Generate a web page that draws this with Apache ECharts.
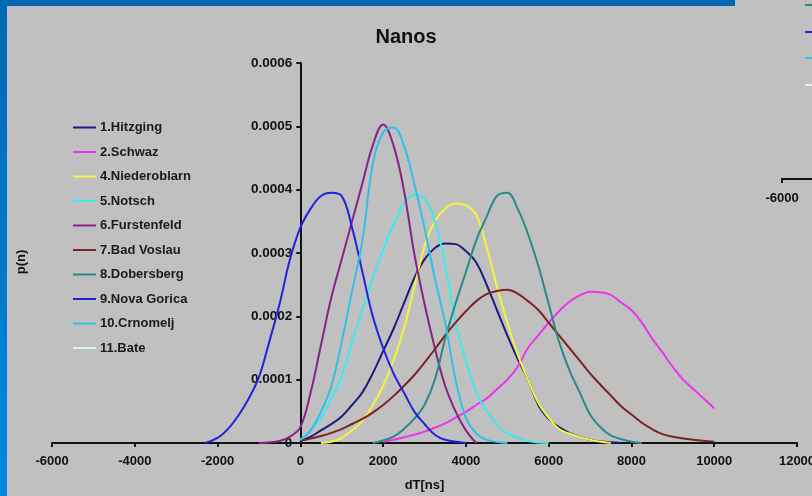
<!DOCTYPE html>
<html>
<head>
<meta charset="utf-8">
<script src="https://cdn.jsdelivr.net/npm/echarts@6/dist/echarts.min.js"></script>
<style>html,body{margin:0;padding:0;background:#c0c0c0;}#c{width:812px;height:496px;}</style>
</head>
<body>
<div id="c"></div>
<script>
// ---- data (x in ns, p(n)) ----
const seriesNames = ['1.Hitzging','2.Schwaz','4.Niederoblarn','5.Notsch','6.Furstenfeld','7.Bad Voslau','8.Dobersberg','9.Nova Gorica','10.Crnomelj','11.Bate'];
const xTicks = [-6000,-4000,-2000,0,2000,4000,6000,8000,10000,12000];
const yTicks = [0,0.0001,0.0002,0.0003,0.0004,0.0005,0.0006];

const hitzging = [[0,0.000003],[250,0.00001],[500,0.00002],[750,0.00003],[1000,0.000042],[1250,0.00006],[1500,0.00008],[1750,0.00011],[2000,0.000145],[2250,0.00018],[2500,0.00022],[2750,0.00026],[3000,0.00029],[3250,0.000308],[3500,0.000315],[3750,0.000314],[4000,0.000303],[4250,0.000285],[4500,0.00025],[4750,0.00021],[5000,0.00017],[5250,0.000133],[5500,0.0001],[5750,0.00006],[6000,0.000038],[6250,0.000025],[6500,0.000016],[7000,0.000005],[7500,0.000001],[7750,0]];
const schwaz = [[2000,0.000002],[2250,0.000005],[2500,0.000009],[2750,0.000013],[3000,0.000018],[3250,0.000024],[3500,0.000031],[3750,0.00004],[4000,0.000049],[4250,0.00006],[4500,0.00007],[4750,0.000085],[5000,0.0001],[5250,0.00012],[5500,0.00015],[5750,0.00017],[6000,0.00019],[6250,0.000208],[6500,0.000223],[6750,0.000233],[7000,0.000239],[7250,0.000238],[7500,0.000234],[7750,0.000222],[8000,0.00021],[8250,0.00019],[8500,0.000165],[8750,0.000143],[9000,0.00012],[9250,0.0001],[9500,0.000085],[9750,0.00007],[10000,0.000055]];
const niederoblarn = [[500,0],[750,0.000002],[1000,0.000008],[1250,0.00002],[1500,0.000035],[1750,0.00006],[2000,0.00009],[2250,0.00013],[2500,0.00018],[2750,0.000245],[3000,0.00031],[3250,0.00035],[3500,0.00037],[3750,0.000378],[4000,0.000375],[4250,0.00036],[4500,0.00031],[4750,0.000247],[5000,0.00019],[5250,0.00014],[5500,0.0001],[5750,0.000063],[6000,0.00004],[6250,0.000022],[6500,0.000015],[7000,0.000005],[7500,0]];
const notsch = [[0,0.000005],[250,0.00002],[500,0.00004],[750,0.00007],[1000,0.000105],[1250,0.00016],[1500,0.00021],[1750,0.00026],[2000,0.000305],[2250,0.000345],[2500,0.000378],[2750,0.000392],[3000,0.000386],[3250,0.00035],[3500,0.00028],[3750,0.00019],[4000,0.00013],[4250,0.00008],[4500,0.00005],[4750,0.00003],[5000,0.000015],[5500,0.000003],[6000,0]];
const furstenfeld = [[-1000,0],[-500,0.000003],[-250,0.00001],[0,0.000025],[250,0.00008],[500,0.000155],[750,0.00023],[1000,0.00029],[1250,0.00035],[1500,0.00041],[1750,0.00047],[2000,0.000503],[2250,0.00047],[2500,0.0004],[2750,0.0003],[3000,0.00022],[3250,0.00015],[3500,0.00009],[3750,0.00005],[4000,0.00002],[4250,0]];
const badVoslau = [[0,0.000003],[250,0.000007],[500,0.000011],[750,0.000016],[1000,0.000022],[1250,0.00003],[1500,0.000038],[1750,0.000048],[2000,0.00006],[2250,0.000074],[2500,0.00009],[2750,0.000107],[3000,0.000127],[3250,0.000148],[3500,0.00017],[3750,0.00019],[4000,0.000208],[4250,0.000224],[4500,0.000235],[4750,0.00024],[5000,0.000242],[5250,0.000236],[5500,0.000224],[5750,0.00021],[6000,0.00019],[6250,0.00017],[6500,0.00015],[6750,0.00013],[7000,0.00011],[7250,0.000092],[7500,0.000075],[7750,0.000058],[8000,0.000045],[8250,0.000032],[8500,0.000022],[8750,0.000014],[9000,0.00001],[9500,0.000005],[10000,0.000002]];
const dobersberg = [[1750,0],[2000,0.000004],[2250,0.00001],[2500,0.000022],[2750,0.000038],[3000,0.00006],[3250,0.0001],[3500,0.000165],[3750,0.00022],[4000,0.00027],[4250,0.00032],[4500,0.000357],[4750,0.00039],[5000,0.000395],[5250,0.00037],[5500,0.00033],[5750,0.00028],[6000,0.00022],[6250,0.00016],[6500,0.000115],[6750,0.00008],[7000,0.000045],[7250,0.000025],[7500,0.000012],[8000,0.000002],[8250,0]];
const novaGorica = [[-2300,0],[-2000,0.000008],[-1750,0.000022],[-1500,0.000043],[-1250,0.00007],[-1000,0.000104],[-750,0.00016],[-500,0.00022],[-250,0.00029],[0,0.00034],[250,0.00037],[500,0.00039],[750,0.000395],[1000,0.00039],[1250,0.00034],[1500,0.00027],[1750,0.0002],[2000,0.00015],[2250,0.00011],[2500,0.00008],[2750,0.00005],[3000,0.00003],[3250,0.000013],[3500,0.000005],[4000,0]];
const crnomelj = [[0,0.000005],[250,0.00002],[500,0.00005],[750,0.00009],[1000,0.00016],[1250,0.00024],[1500,0.00032],[1750,0.00044],[2000,0.00049],[2250,0.000498],[2500,0.00047],[2750,0.00041],[3000,0.00034],[3250,0.00026],[3500,0.00019],[3750,0.0001],[4000,0.00004],[4250,0.000015],[4500,0.000005],[5000,0]];
const bate = [];

const seriesData = [hitzging, schwaz, niederoblarn, notsch, furstenfeld, badVoslau, dobersberg, novaGorica, crnomelj, bate];
const seriesColors = ['#1c1c80','#ee33ee','#f4f43c','#3ceaee','#882288','#802020','#2a8a88','#2222dd','#30bfe8','#d8f4f4'];

const chart = echarts.init(document.getElementById('c'));
const FONT = 'Liberation Sans, Arial, sans-serif';
const GRID_LEFT = 52, GRID_RIGHT = 15, W = 812;
const plotW = W - GRID_LEFT - GRID_RIGHT;
const xMin = xTicks[0], xMax = xTicks[xTicks.length-1];
// shift y axis so that it crosses the x axis at x = 0 (labels move with it)
const yOffset = -plotW * (0 - xMin) / (xMax - xMin);

chart.setOption({
  backgroundColor: '#c0c0c0',
  animation: false,
  title: {
    text: 'Nanos', left: 'center', top: 22,
    textStyle: { fontFamily: FONT, fontSize: 20, fontWeight: 'bold', color: '#111' }
  },
  legend: {
    orient: 'vertical', left: 73, top: 121, padding: 0,
    icon: 'rect', itemWidth: 23, itemHeight: 2, itemGap: 11.5,
    data: seriesNames,
    textStyle: { fontFamily: FONT, fontSize: 13, fontWeight: 'bold', color: '#1a1a1a', padding: [0,0,0,-1] }
  },
  grid: { left: GRID_LEFT, right: GRID_RIGHT, top: 63, bottom: 53, containLabel: false, outerBoundsMode: 'none' },
  xAxis: {
    type: 'value', min: xMin, max: xMax, interval: 2000,
    name: 'dT[ns]', nameLocation: 'middle', nameGap: 36,
    nameTextStyle: { fontFamily: FONT, fontSize: 13, fontWeight: 'bold', color: '#111' },
    splitLine: { show: false },
    axisLine: { lineStyle: { color: '#111', width: 2 } },
    axisTick: { length: 4, lineStyle: { color: '#111', width: 2 } },
    axisLabel: { fontFamily: FONT, fontSize: 13, fontWeight: 'bold', color: '#111', margin: 12,
      formatter: v => String(v), hideOverlap: false, showMinLabel: true, showMaxLabel: true }
  },
  yAxis: {
    type: 'value', min: yTicks[0], max: yTicks[yTicks.length-1], interval: 0.0001,
    offset: yOffset,
    splitLine: { show: false },
    axisLine: { onZero: false, lineStyle: { color: '#111', width: 2 } },
    axisTick: { length: 4, lineStyle: { color: '#111', width: 2 } },
    axisLabel: { fontFamily: FONT, fontSize: 13.5, fontWeight: 'bold', color: '#111', margin: 8,
      formatter: v => v === 0 ? '0' : v.toFixed(4) }
  },
  graphic: [
    { type: 'rect', shape: { x: 0, y: 0, width: 735, height: 6 }, style: { fill: '#0068b2' }, silent: true },
    { type: 'rect', shape: { x: 0, y: 0, width: 7, height: 496 }, silent: true,
      style: { fill: new echarts.graphic.LinearGradient(0,0,0,1,[{offset:0,color:'#0068b2'},{offset:1,color:'#0088e0'}]) } },
    { type: 'text', x: 21, y: 262, rotation: Math.PI/2, silent: true,
      style: { text: 'p(n)', fill: '#111', font: 'bold 13px ' + FONT, align: 'center', verticalAlign: 'middle' } },
    // fragments of the neighbouring chart at the right edge
    { type: 'line', shape: { x1: 805, y1: 5, x2: 812, y2: 5 }, style: { stroke: '#2a8a88', lineWidth: 2 }, silent: true },
    { type: 'line', shape: { x1: 805, y1: 32, x2: 812, y2: 32 }, style: { stroke: '#2222dd', lineWidth: 2 }, silent: true },
    { type: 'line', shape: { x1: 805, y1: 58, x2: 812, y2: 58 }, style: { stroke: '#30bfe8', lineWidth: 2 }, silent: true },
    { type: 'line', shape: { x1: 805, y1: 85, x2: 812, y2: 85 }, style: { stroke: '#d8f4f4', lineWidth: 2 }, silent: true },
    { type: 'line', shape: { x1: 781, y1: 179, x2: 812, y2: 179 }, style: { stroke: '#111', lineWidth: 2 }, silent: true },
    { type: 'line', shape: { x1: 782, y1: 178, x2: 782, y2: 183 }, style: { stroke: '#111', lineWidth: 2 }, silent: true },
    { type: 'text', x: 782, y: 198, silent: true,
      style: { text: '-6000', fill: '#111', font: 'bold 13px ' + FONT, align: 'center', verticalAlign: 'middle' } }
  ],
  series: seriesNames.map((n, i) => ({
    name: n, type: 'line', data: seriesData[i], smooth: 0.4, symbol: 'none',
    lineStyle: { width: 2, color: seriesColors[i] }, itemStyle: { color: seriesColors[i] }
  }))
});
</script>
</body>
</html>
